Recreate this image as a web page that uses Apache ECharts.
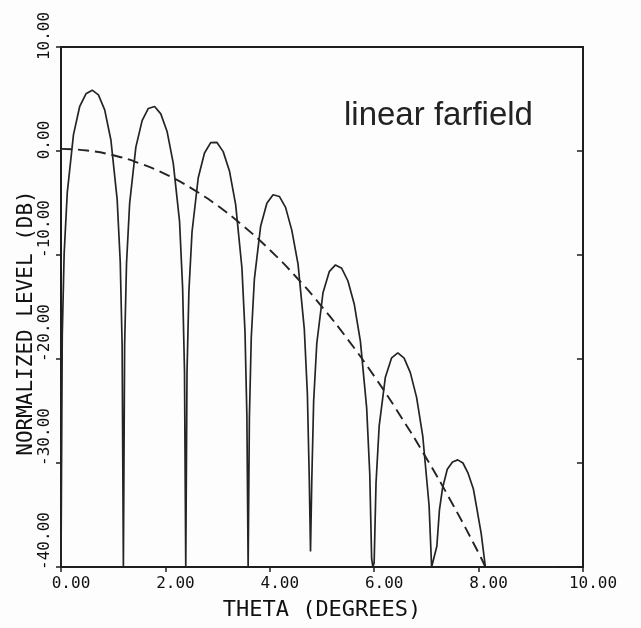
<!DOCTYPE html>
<html>
<head>
<meta charset="utf-8">
<script src="https://cdn.jsdelivr.net/npm/echarts@6/dist/echarts.min.js"></script>
<style>
html,body{margin:0;padding:0;background:#fdfdfd;}
#chart{width:641px;height:628px;}
</style>
</head>
<body>
<div id="chart"></div>
<script>
// ---- data ----
var xTicks = [0, 2, 4, 6, 8, 10];
var yTicks = [-40, -30, -20, -10, 0, 10];

// solid curve (two-element interference pattern), theta in degrees, level in dB
var thetaSolid = [
  0, 0.024, 0.06, 0.12, 0.239, 0.359, 0.478, 0.598, 0.717, 0.837, 0.956, 1.076, 1.135, 1.171, 1.195,
  1.219, 1.255, 1.315, 1.434, 1.554, 1.673, 1.793, 1.912, 2.032, 2.151, 2.271, 2.33, 2.366, 2.39,
  2.414, 2.45, 2.51, 2.629, 2.749, 2.868, 2.988, 3.107, 3.227, 3.346, 3.466, 3.525, 3.561, 3.585,
  3.609, 3.645, 3.705, 3.824, 3.944, 4.063, 4.183, 4.302, 4.422, 4.541, 4.661, 4.72, 4.756, 4.78,
  4.804, 4.84, 4.9, 5.019, 5.139, 5.258, 5.378, 5.497, 5.617, 5.736, 5.856, 5.915, 5.951, 5.975,
  5.999, 6.035, 6.095, 6.214, 6.334, 6.453, 6.573, 6.692, 6.812, 6.931, 7.051, 7.1, 7.13,
  7.2, 7.25, 7.31, 7.4, 7.5, 7.6, 7.7, 7.8, 7.9, 7.96, 8.05, 8.13, 9.49
];
var levelSolid = [
  -40, -17.8, -9.9, -4.0, 1.58, 4.3, 5.5, 5.85, 5.4, 3.96, 1.06, -4.68, -10.67, -18.63, -40,
  -18.7, -10.84, -5.03, 0.37, 2.92, 4.09, 4.28, 3.57, 1.88, -1.19, -6.77, -13.18, -21.19, -40,
  -21.33, -13.52, -7.79, -2.57, -0.19, 0.8, 0.82, -0.06, -1.92, -5.16, -11.25, -17.41, -25.47, -40,
  -25.68, -17.93, -12.29, -7.24, -5.03, -4.21, -4.37, -5.42, -7.63, -10.87, -17.12, -23.37, -31.49, -38.5,
  -31.76, -24.06, -18.51, -13.63, -11.6, -10.95, -11.28, -12.5, -14.71, -18.3, -24.73, -31.06, -39.2, -40,
  -39.6, -31.93, -26.46, -21.75, -19.89, -19.41, -19.92, -21.31, -23.69, -27.45, -34.06, -40, -40,
  -38, -34.5, -32.4, -30.6, -29.9, -29.7, -30.0, -31.0, -32.5, -34.2, -36.8, -40, -40
];

// dashed envelope
var thetaEnv = [0, 0.5, 1, 1.5, 2, 2.5, 3, 3.5, 4, 4.5, 5, 5.5, 6, 6.5, 7, 7.5, 8, 8.13];
var levelEnv = [0.2, 0.05, -0.41, -1.17, -2.23, -3.59, -5.26, -7.24, -9.51, -12.09, -14.98, -18.16, -21.65, -25.45, -29.54, -33.94, -38.65, -40];

var titleText = 'linear farfield';
var xName = 'THETA (DEGREES)';
var yName = 'NORMALIZED LEVEL (DB)';

function pairs(xs, ys) {
  var out = [];
  for (var i = 0; i < xs.length; i++) out.push([xs[i], ys[i]]);
  return out;
}

var mono = 'DejaVu Sans Mono';
var ink = '#1e1e1e';

var chart = echarts.init(document.getElementById('chart'), null, {renderer: 'canvas'});
chart.setOption({
  animation: false,
  backgroundColor: '#fdfdfd',
  grid: {left: 61, right: 58, top: 47, bottom: 61},
  xAxis: [{
    type: 'value',
    min: xTicks[0], max: xTicks[xTicks.length - 1], interval: 2,
    position: 'bottom',
    axisLine: {show: true, onZero: false, lineStyle: {color: ink, width: 2}},
    axisTick: {show: true, inside: false, length: 5, lineStyle: {color: ink, width: 1.5}},
    splitLine: {show: false},
    axisLabel: {
      formatter: function (v) { return v.toFixed(2); },
      fontFamily: mono, fontSize: 16, color: '#111',
      margin: 9, align: 'center', padding: [0, 0, 0, 20]
    },
    name: xName, nameLocation: 'middle', nameGap: 32, nameMoveOverlap: false,
    nameTextStyle: {fontFamily: mono, fontSize: 22, color: '#111'}
  }, {
    type: 'value',
    min: xTicks[0], max: xTicks[xTicks.length - 1], interval: 2,
    position: 'top',
    axisLine: {show: true, onZero: false, lineStyle: {color: ink, width: 2}},
    axisTick: {show: false},
    axisLabel: {show: false},
    splitLine: {show: false}
  }],
  yAxis: [{
    type: 'value',
    min: yTicks[0], max: yTicks[yTicks.length - 1], interval: 10,
    position: 'left',
    axisLine: {show: true, onZero: false, lineStyle: {color: ink, width: 2}},
    axisTick: {show: true, inside: false, length: 5, lineStyle: {color: ink, width: 1.5}},
    splitLine: {show: false},
    axisLabel: {
      formatter: function (v) {
        var s = v.toFixed(2);
        return v < 0 ? '{n|' + s + '}' : '{p|' + s + '}';
      },
      rotate: 90, align: 'center', verticalAlign: 'middle',
      fontFamily: mono, fontSize: 16, color: '#111', margin: 16,
      rich: {
        p: {fontFamily: mono, fontSize: 16, color: '#111', padding: [0, 0, 0, 22]},
        n: {fontFamily: mono, fontSize: 16, color: '#111', padding: [0, 0, 0, 52]}
      }
    },
    name: yName, nameLocation: 'middle', nameGap: 24, nameRotate: 90, nameMoveOverlap: false,
    nameTextStyle: {fontFamily: mono, fontSize: 21, color: '#111', padding: [0, 32, 0, 0]}
  }, {
    type: 'value',
    min: yTicks[0], max: yTicks[yTicks.length - 1], interval: 10,
    position: 'right',
    axisLine: {show: true, onZero: false, lineStyle: {color: ink, width: 2}},
    axisTick: {show: true, inside: true, length: 6, lineStyle: {color: ink, width: 1.5}},
    axisLabel: {show: false},
    splitLine: {show: false}
  }],
  graphic: [{
    type: 'text',
    left: 344, top: 99,
    style: {text: titleText, fontFamily: 'Liberation Sans', fontSize: 33, fill: '#222'}
  }],
  series: [{
    type: 'line',
    xAxisIndex: 0, yAxisIndex: 0,
    data: pairs(thetaSolid, levelSolid),
    symbol: 'none', smooth: false,
    lineStyle: {color: '#242424', width: 1.7},
    z: 3
  }, {
    type: 'line',
    xAxisIndex: 0, yAxisIndex: 0,
    data: pairs(thetaEnv, levelEnv),
    symbol: 'none', smooth: true,
    lineStyle: {color: '#242424', width: 1.9, type: [11, 6]},
    z: 3
  }]
});
</script>
</body>
</html>
